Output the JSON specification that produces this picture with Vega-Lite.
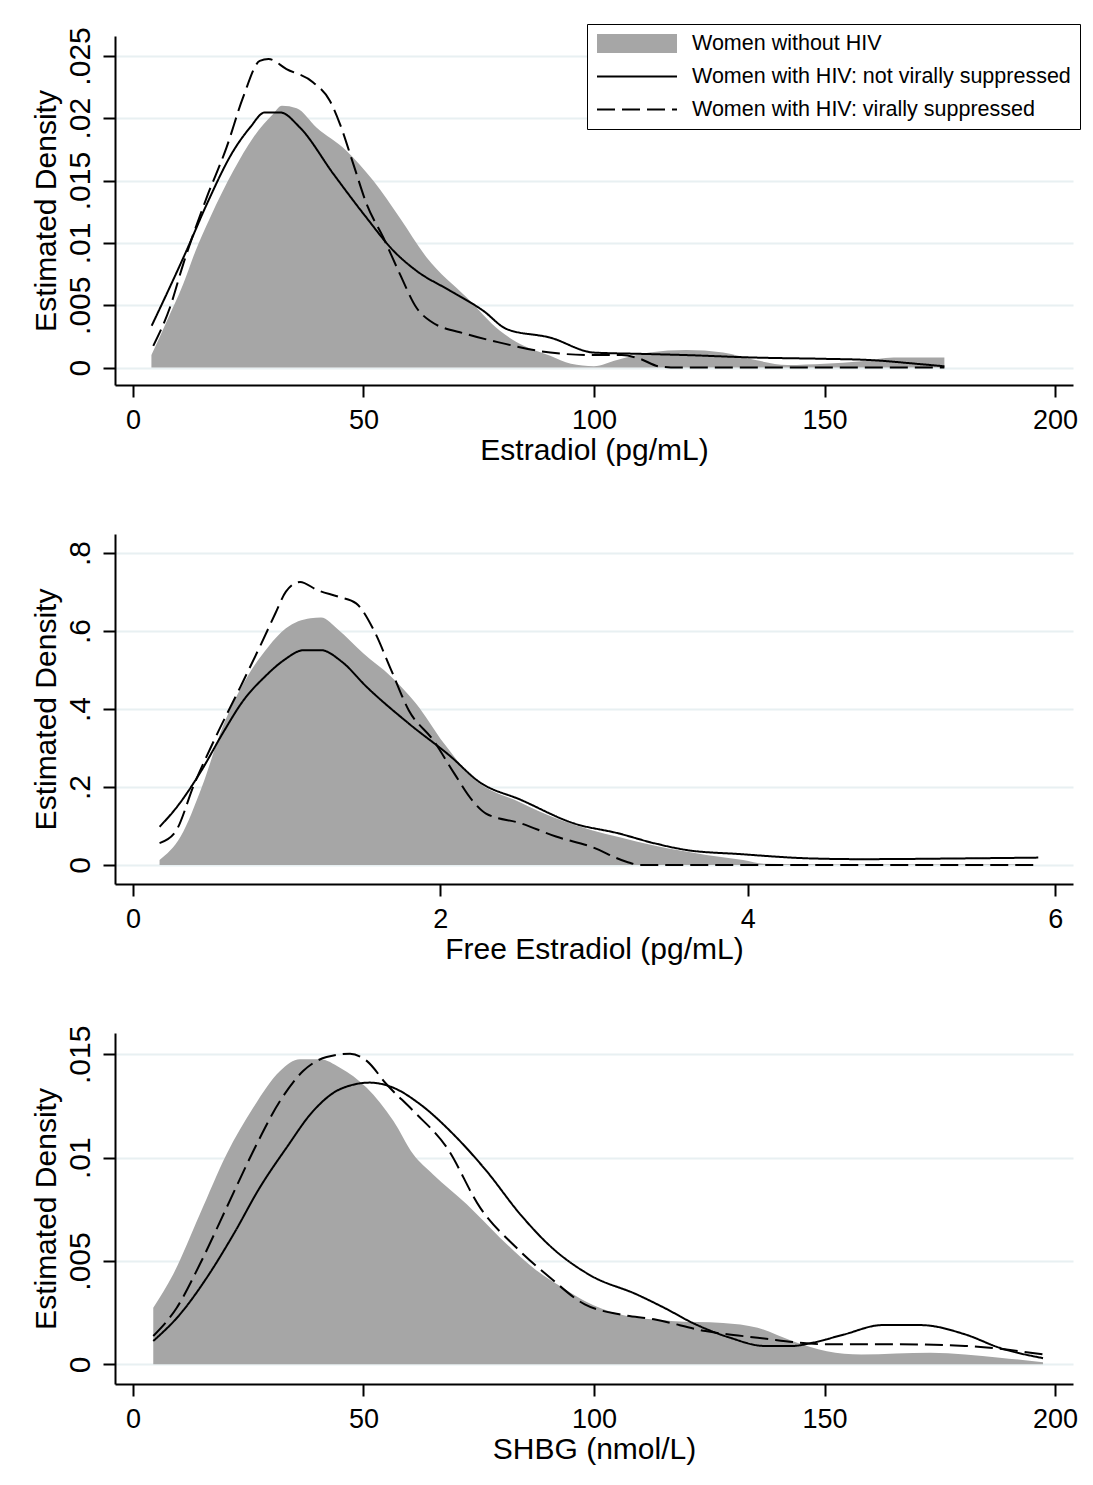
{
  "$schema": "https://vega.github.io/schema/vega-lite/v6.json",
  "padding": {"left": 31, "top": 23, "right": 5, "bottom": 5},
  "background": "white",
  "bounds": "flush",
  "spacing": 149,
  "config": {
    "font": "Liberation Sans",
    "view": {"stroke": null},
    "axis": {
      "domainColor": "black", "domainWidth": 2, "tickColor": "black", "tickWidth": 2, "tickSize": 12,
      "labelColor": "black", "titleColor": "black", "titleFontWeight": "normal",
      "gridColor": "#e8f0f2", "gridWidth": 2, "labelFont": "Liberation Sans", "titleFont": "Liberation Sans",
      "labelOverlap": false, "labelFlush": false
    },
    "axisX": {"grid": false, "labelFontSize": 27, "labelPadding": 10, "titleFontSize": 30, "titleY": 50, "titleBaseline": "top", "format": "d"},
    "axisY": {"grid": true, "labelFontSize": 30, "labelAngle": 270, "labelAlign": "center", "labelBaseline": "bottom", "labelPadding": 8, "titleFontSize": 30, "titleX": -54, "titleAngle": 270, "titleBaseline": "bottom",
      "labelExpr": "datum.value == 0 ? '0' : substring(format(datum.value, '.3~f'), 1)"}
  },
  "resolve": {
    "scale": {"strokeDash": "independent", "stroke": "independent", "fill": "independent"},
    "legend": {"strokeDash": "independent", "stroke": "independent", "fill": "independent"}
  },
  "vconcat": [
    {
      "width": 958, "height": 349,
      "data": {"values": [
        {"group": "Women without HIV", "x": 4, "y": 0.001},
        {"group": "Women without HIV", "x": 7.3, "y": 0.0037},
        {"group": "Women without HIV", "x": 10.9, "y": 0.0067},
        {"group": "Women without HIV", "x": 13.5, "y": 0.0093},
        {"group": "Women without HIV", "x": 16.7, "y": 0.012},
        {"group": "Women without HIV", "x": 21.8, "y": 0.0158},
        {"group": "Women without HIV", "x": 26.1, "y": 0.01846},
        {"group": "Women without HIV", "x": 30.4, "y": 0.02034},
        {"group": "Women without HIV", "x": 32.3, "y": 0.021},
        {"group": "Women without HIV", "x": 35.5, "y": 0.0208},
        {"group": "Women without HIV", "x": 39.8, "y": 0.01926},
        {"group": "Women without HIV", "x": 46.3, "y": 0.0174},
        {"group": "Women without HIV", "x": 52.1, "y": 0.015},
        {"group": "Women without HIV", "x": 57.9, "y": 0.012},
        {"group": "Women without HIV", "x": 63.7, "y": 0.00883},
        {"group": "Women without HIV", "x": 72.4, "y": 0.00562},
        {"group": "Women without HIV", "x": 79.6, "y": 0.00295},
        {"group": "Women without HIV", "x": 85, "y": 0.0017},
        {"group": "Women without HIV", "x": 90.5, "y": 0.00094},
        {"group": "Women without HIV", "x": 95, "y": 0.0003},
        {"group": "Women without HIV", "x": 100, "y": 0.0001},
        {"group": "Women without HIV", "x": 105, "y": 0.0006},
        {"group": "Women without HIV", "x": 112, "y": 0.0012},
        {"group": "Women without HIV", "x": 120, "y": 0.0014},
        {"group": "Women without HIV", "x": 128, "y": 0.0012},
        {"group": "Women without HIV", "x": 135, "y": 0.0006},
        {"group": "Women without HIV", "x": 142, "y": 0.0002},
        {"group": "Women without HIV", "x": 150, "y": 0.0003},
        {"group": "Women without HIV", "x": 158, "y": 0.0005},
        {"group": "Women without HIV", "x": 165, "y": 0.0008},
        {"group": "Women without HIV", "x": 176, "y": 0.0008},
        {"group": "Women with HIV: not virally suppressed", "x": 4.05, "y": 0.00335},
        {"group": "Women with HIV: not virally suppressed", "x": 7.3, "y": 0.0059},
        {"group": "Women with HIV: not virally suppressed", "x": 11.6, "y": 0.00937},
        {"group": "Women with HIV: not virally suppressed", "x": 16, "y": 0.0131},
        {"group": "Women with HIV: not virally suppressed", "x": 21.8, "y": 0.0174},
        {"group": "Women with HIV: not virally suppressed", "x": 25.4, "y": 0.01926},
        {"group": "Women with HIV: not virally suppressed", "x": 28.6, "y": 0.02047},
        {"group": "Women with HIV: not virally suppressed", "x": 31.9, "y": 0.02047},
        {"group": "Women with HIV: not virally suppressed", "x": 36.2, "y": 0.01926},
        {"group": "Women with HIV: not virally suppressed", "x": 43.5, "y": 0.01552},
        {"group": "Women with HIV: not virally suppressed", "x": 50.7, "y": 0.012},
        {"group": "Women with HIV: not virally suppressed", "x": 56.5, "y": 0.00937},
        {"group": "Women with HIV: not virally suppressed", "x": 61.5, "y": 0.00776},
        {"group": "Women with HIV: not virally suppressed", "x": 68.8, "y": 0.00616},
        {"group": "Women with HIV: not virally suppressed", "x": 76, "y": 0.00455},
        {"group": "Women with HIV: not virally suppressed", "x": 81.1, "y": 0.00308},
        {"group": "Women with HIV: not virally suppressed", "x": 90.5, "y": 0.0024},
        {"group": "Women with HIV: not virally suppressed", "x": 100, "y": 0.0012},
        {"group": "Women with HIV: not virally suppressed", "x": 110, "y": 0.0011},
        {"group": "Women with HIV: not virally suppressed", "x": 120, "y": 0.001},
        {"group": "Women with HIV: not virally suppressed", "x": 135, "y": 0.0008},
        {"group": "Women with HIV: not virally suppressed", "x": 150, "y": 0.0007},
        {"group": "Women with HIV: not virally suppressed", "x": 160, "y": 0.0006},
        {"group": "Women with HIV: not virally suppressed", "x": 170, "y": 0.0003},
        {"group": "Women with HIV: not virally suppressed", "x": 176, "y": 0.0001},
        {"group": "Women with HIV: virally suppressed", "x": 4.4, "y": 0.00174},
        {"group": "Women with HIV: virally suppressed", "x": 8, "y": 0.0048},
        {"group": "Women with HIV: virally suppressed", "x": 10.9, "y": 0.0083},
        {"group": "Women with HIV: virally suppressed", "x": 16, "y": 0.01365},
        {"group": "Women with HIV: virally suppressed", "x": 20.3, "y": 0.01766},
        {"group": "Women with HIV: virally suppressed", "x": 23.9, "y": 0.0217},
        {"group": "Women with HIV: virally suppressed", "x": 27.5, "y": 0.0246},
        {"group": "Women with HIV: virally suppressed", "x": 29.4, "y": 0.02475},
        {"group": "Women with HIV: virally suppressed", "x": 33.3, "y": 0.02395},
        {"group": "Women with HIV: virally suppressed", "x": 39.1, "y": 0.02287},
        {"group": "Women with HIV: virally suppressed", "x": 42.7, "y": 0.0214},
        {"group": "Women with HIV: virally suppressed", "x": 44.9, "y": 0.01953},
        {"group": "Women with HIV: virally suppressed", "x": 47.8, "y": 0.01632},
        {"group": "Women with HIV: virally suppressed", "x": 50.7, "y": 0.0131},
        {"group": "Women with HIV: virally suppressed", "x": 54.3, "y": 0.01043},
        {"group": "Women with HIV: virally suppressed", "x": 57.9, "y": 0.0075},
        {"group": "Women with HIV: virally suppressed", "x": 61.5, "y": 0.0048},
        {"group": "Women with HIV: virally suppressed", "x": 64.4, "y": 0.00375},
        {"group": "Women with HIV: virally suppressed", "x": 72.4, "y": 0.00268},
        {"group": "Women with HIV: virally suppressed", "x": 79.6, "y": 0.002},
        {"group": "Women with HIV: virally suppressed", "x": 90.5, "y": 0.0012},
        {"group": "Women with HIV: virally suppressed", "x": 100, "y": 0.001},
        {"group": "Women with HIV: virally suppressed", "x": 106, "y": 0.001},
        {"group": "Women with HIV: virally suppressed", "x": 110, "y": 0.0007},
        {"group": "Women with HIV: virally suppressed", "x": 114, "y": 0.0001},
        {"group": "Women with HIV: virally suppressed", "x": 118, "y": 0},
        {"group": "Women with HIV: virally suppressed", "x": 176, "y": 0}
      ]},
      "layer": [
        {
          "transform": [{"filter": "datum.group == 'Women without HIV'"}],
          "mark": {"type": "area", "interpolate": "monotone"},
          "encoding": {
            "x": {"field": "x", "type": "quantitative", "scale": {"domain": [-3.9, 203.9], "nice": false, "zero": false},
                  "axis": {"values": [0, 50, 100, 150, 200], "title": "Estradiol (pg/mL)"}},
            "y": {"field": "y", "type": "quantitative", "scale": {"domain": [-0.0014, 0.0266], "nice": false, "zero": false},
                  "axis": {"values": [0, 0.005, 0.01, 0.015, 0.02, 0.025], "title": "Estimated Density"}},
            "y2": {"datum": 0},
            "fill": {
              "field": "group", "type": "nominal",
              "scale": {"domain": ["Women without HIV"], "range": ["#a6a6a6"]},
              "legend": {
                "title": null, "orient": "none", "legendX": 472, "legendY": -12, "direction": "vertical",
                "symbolSize": 6400, "symbolStrokeWidth": 1.8, "symbolStrokeColor": "transparent",
                "symbolType": "M-1,-0.24H1V0.24H-1Z", "clipHeight": 21, "padding": 9,
                "labelExpr": "''", "labelOffset": 14, "labelFontSize": 21.5,
                "fillColor": null, "strokeColor": null, "zindex": 3
              }
            }
          }
        },
        {
          "transform": [{"filter": "datum.group != 'Women without HIV'"}],
          "mark": {"type": "line", "strokeWidth": 2, "interpolate": "monotone"},
          "encoding": {
            "x": {"field": "x", "type": "quantitative"},
            "y": {"field": "y", "type": "quantitative"},
            "stroke": {
              "field": "group", "type": "nominal",
              "scale": {"domain": ["Women without HIV", "Women with HIV: not virally suppressed", "Women with HIV: virally suppressed"],
                        "range": ["transparent", "black", "black"]},
              "legend": {
                "title": null, "orient": "none", "legendX": 472, "legendY": -12, "direction": "vertical",
                "labelFontSize": 21.5, "labelFont": "Liberation Sans", "labelColor": "black", "labelLimit": 600,
                "symbolSize": 6400, "symbolStrokeWidth": 1.8, "symbolType": "stroke", "clipHeight": 21,
                "labelOffset": 14, "rowPadding": 11, "padding": 9, "labelExpr": "datum.label + '\u00a0'",
                "strokeColor": "black", "fillColor": "white", "zindex": 1
              }
            },
            "strokeDash": {
              "field": "group", "type": "nominal",
              "scale": {"domain": ["Women without HIV", "Women with HIV: not virally suppressed", "Women with HIV: virally suppressed"],
                        "range": [[1, 0], [1, 0], [18, 7]]},
              "legend": {
                "title": null, "orient": "none", "legendX": 472, "legendY": -12, "direction": "vertical",
                "labelFontSize": 21.5, "labelFont": "Liberation Sans", "labelColor": "black", "labelLimit": 600,
                "symbolSize": 6400, "symbolStrokeWidth": 1.8, "symbolType": "stroke", "clipHeight": 21,
                "labelOffset": 14, "rowPadding": 11, "padding": 9, "labelExpr": "datum.label + '\u00a0'",
                "strokeColor": "black", "fillColor": "white", "zindex": 1
              }
            }
          }
        }
      ]
    },
    {
      "width": 958, "height": 350,
      "data": {"values": [
        {"group": "Women without HIV", "x": 0.173, "y": 0.013},
        {"group": "Women without HIV", "x": 0.31, "y": 0.073},
        {"group": "Women without HIV", "x": 0.448, "y": 0.2},
        {"group": "Women without HIV", "x": 0.584, "y": 0.355},
        {"group": "Women without HIV", "x": 0.744, "y": 0.483},
        {"group": "Women without HIV", "x": 0.881, "y": 0.56},
        {"group": "Women without HIV", "x": 0.995, "y": 0.607},
        {"group": "Women without HIV", "x": 1.155, "y": 0.633},
        {"group": "Women without HIV", "x": 1.223, "y": 0.635},
        {"group": "Women without HIV", "x": 1.338, "y": 0.603},
        {"group": "Women without HIV", "x": 1.498, "y": 0.543},
        {"group": "Women without HIV", "x": 1.68, "y": 0.483},
        {"group": "Women without HIV", "x": 1.84, "y": 0.415},
        {"group": "Women without HIV", "x": 2.023, "y": 0.312},
        {"group": "Women without HIV", "x": 2.205, "y": 0.226},
        {"group": "Women without HIV", "x": 2.524, "y": 0.16},
        {"group": "Women without HIV", "x": 2.752, "y": 0.12},
        {"group": "Women without HIV", "x": 2.98, "y": 0.09},
        {"group": "Women without HIV", "x": 3.16, "y": 0.072},
        {"group": "Women without HIV", "x": 3.39, "y": 0.05},
        {"group": "Women without HIV", "x": 3.73, "y": 0.026},
        {"group": "Women without HIV", "x": 3.97, "y": 0.013},
        {"group": "Women without HIV", "x": 4.11, "y": 0.003},
        {"group": "Women without HIV", "x": 4.5, "y": 0.001},
        {"group": "Women without HIV", "x": 5.85, "y": 0.001},
        {"group": "Women with HIV: not virally suppressed", "x": 0.173, "y": 0.098},
        {"group": "Women with HIV: not virally suppressed", "x": 0.288, "y": 0.15},
        {"group": "Women with HIV: not virally suppressed", "x": 0.448, "y": 0.244},
        {"group": "Women with HIV: not virally suppressed", "x": 0.584, "y": 0.338},
        {"group": "Women with HIV: not virally suppressed", "x": 0.72, "y": 0.423},
        {"group": "Women with HIV: not virally suppressed", "x": 0.858, "y": 0.483},
        {"group": "Women with HIV: not virally suppressed", "x": 0.984, "y": 0.526},
        {"group": "Women with HIV: not virally suppressed", "x": 1.11, "y": 0.551},
        {"group": "Women with HIV: not virally suppressed", "x": 1.223, "y": 0.551},
        {"group": "Women with HIV: not virally suppressed", "x": 1.36, "y": 0.521},
        {"group": "Women with HIV: not virally suppressed", "x": 1.52, "y": 0.457},
        {"group": "Women with HIV: not virally suppressed", "x": 1.794, "y": 0.363},
        {"group": "Women with HIV: not virally suppressed", "x": 2.068, "y": 0.278},
        {"group": "Women with HIV: not virally suppressed", "x": 2.25, "y": 0.214},
        {"group": "Women with HIV: not virally suppressed", "x": 2.524, "y": 0.167},
        {"group": "Women with HIV: not virally suppressed", "x": 2.867, "y": 0.107},
        {"group": "Women with HIV: not virally suppressed", "x": 3.16, "y": 0.081},
        {"group": "Women with HIV: not virally suppressed", "x": 3.39, "y": 0.056},
        {"group": "Women with HIV: not virally suppressed", "x": 3.61, "y": 0.038},
        {"group": "Women with HIV: not virally suppressed", "x": 3.95, "y": 0.028},
        {"group": "Women with HIV: not virally suppressed", "x": 4.4, "y": 0.017},
        {"group": "Women with HIV: not virally suppressed", "x": 4.74, "y": 0.015},
        {"group": "Women with HIV: not virally suppressed", "x": 5.41, "y": 0.017},
        {"group": "Women with HIV: not virally suppressed", "x": 5.89, "y": 0.019},
        {"group": "Women with HIV: virally suppressed", "x": 0.173, "y": 0.056},
        {"group": "Women with HIV: virally suppressed", "x": 0.276, "y": 0.085},
        {"group": "Women with HIV: virally suppressed", "x": 0.4, "y": 0.209},
        {"group": "Women with HIV: virally suppressed", "x": 0.539, "y": 0.329},
        {"group": "Women with HIV: virally suppressed", "x": 0.699, "y": 0.457},
        {"group": "Women with HIV: virally suppressed", "x": 0.835, "y": 0.568},
        {"group": "Women with HIV: virally suppressed", "x": 0.926, "y": 0.645},
        {"group": "Women with HIV: virally suppressed", "x": 0.995, "y": 0.701},
        {"group": "Women with HIV: virally suppressed", "x": 1.087, "y": 0.726},
        {"group": "Women with HIV: virally suppressed", "x": 1.2, "y": 0.705},
        {"group": "Women with HIV: virally suppressed", "x": 1.338, "y": 0.688},
        {"group": "Women with HIV: virally suppressed", "x": 1.452, "y": 0.671},
        {"group": "Women with HIV: virally suppressed", "x": 1.566, "y": 0.603},
        {"group": "Women with HIV: virally suppressed", "x": 1.68, "y": 0.5},
        {"group": "Women with HIV: virally suppressed", "x": 1.794, "y": 0.397},
        {"group": "Women with HIV: virally suppressed", "x": 1.954, "y": 0.32},
        {"group": "Women with HIV: virally suppressed", "x": 2.09, "y": 0.235},
        {"group": "Women with HIV: virally suppressed", "x": 2.205, "y": 0.167},
        {"group": "Women with HIV: virally suppressed", "x": 2.297, "y": 0.132},
        {"group": "Women with HIV: virally suppressed", "x": 2.524, "y": 0.107},
        {"group": "Women with HIV: virally suppressed", "x": 2.752, "y": 0.073},
        {"group": "Women with HIV: virally suppressed", "x": 2.98, "y": 0.047},
        {"group": "Women with HIV: virally suppressed", "x": 3.21, "y": 0.0085},
        {"group": "Women with HIV: virally suppressed", "x": 3.3, "y": 0},
        {"group": "Women with HIV: virally suppressed", "x": 5.89, "y": 0}
      ]},
      "layer": [
        {
          "transform": [{"filter": "datum.group == 'Women without HIV'"}],
          "mark": {"type": "area", "color": "#a6a6a6", "interpolate": "monotone"},
          "encoding": {
            "x": {"field": "x", "type": "quantitative", "scale": {"domain": [-0.117, 6.116], "nice": false, "zero": false},
                  "axis": {"values": [0, 2, 4, 6], "title": "Free Estradiol (pg/mL)"}},
            "y": {"field": "y", "type": "quantitative", "scale": {"domain": [-0.0487, 0.849], "nice": false, "zero": false},
                  "axis": {"values": [0, 0.2, 0.4, 0.6, 0.8], "title": "Estimated Density"}},
            "y2": {"datum": 0}
          }
        },
        {
          "transform": [{"filter": "datum.group != 'Women without HIV'"}],
          "mark": {"type": "line", "color": "black", "strokeWidth": 2, "interpolate": "monotone"},
          "encoding": {
            "x": {"field": "x", "type": "quantitative"},
            "y": {"field": "y", "type": "quantitative"},
            "strokeDash": {
              "field": "group", "type": "nominal",
              "scale": {"domain": ["Women without HIV", "Women with HIV: not virally suppressed", "Women with HIV: virally suppressed"],
                        "range": [[1, 0], [1, 0], [18, 7]]},
              "legend": null
            }
          }
        }
      ]
    },
    {
      "width": 958, "height": 351,
      "data": {"values": [
        {"group": "Women without HIV", "x": 4.4, "y": 0.00274},
        {"group": "Women without HIV", "x": 8.7, "y": 0.00435},
        {"group": "Women without HIV", "x": 14.5, "y": 0.00726},
        {"group": "Women without HIV", "x": 20.3, "y": 0.01016},
        {"group": "Women without HIV", "x": 26.1, "y": 0.01242},
        {"group": "Women without HIV", "x": 31.9, "y": 0.01419},
        {"group": "Women without HIV", "x": 36.2, "y": 0.01476},
        {"group": "Women without HIV", "x": 40.6, "y": 0.01476},
        {"group": "Women without HIV", "x": 44.9, "y": 0.01435},
        {"group": "Women without HIV", "x": 50.7, "y": 0.01338},
        {"group": "Women without HIV", "x": 56.5, "y": 0.01177},
        {"group": "Women without HIV", "x": 60.8, "y": 0.01016},
        {"group": "Women without HIV", "x": 65.1, "y": 0.00919},
        {"group": "Women without HIV", "x": 72.4, "y": 0.00774},
        {"group": "Women without HIV", "x": 79.6, "y": 0.00613},
        {"group": "Women without HIV", "x": 86.8, "y": 0.00467},
        {"group": "Women without HIV", "x": 94, "y": 0.0036},
        {"group": "Women without HIV", "x": 98, "y": 0.00306},
        {"group": "Women without HIV", "x": 105.5, "y": 0.00242},
        {"group": "Women without HIV", "x": 116.7, "y": 0.0021},
        {"group": "Women without HIV", "x": 128, "y": 0.002},
        {"group": "Women without HIV", "x": 135.5, "y": 0.00177},
        {"group": "Women without HIV", "x": 143, "y": 0.00113},
        {"group": "Women without HIV", "x": 150.5, "y": 0.00064},
        {"group": "Women without HIV", "x": 158, "y": 0.00048},
        {"group": "Women without HIV", "x": 173, "y": 0.00056},
        {"group": "Women without HIV", "x": 188, "y": 0.00032},
        {"group": "Women without HIV", "x": 197.4, "y": 0.0001},
        {"group": "Women with HIV: not virally suppressed", "x": 4.4, "y": 0.00113},
        {"group": "Women with HIV: not virally suppressed", "x": 10.2, "y": 0.00242},
        {"group": "Women with HIV: not virally suppressed", "x": 16, "y": 0.00419},
        {"group": "Women with HIV: not virally suppressed", "x": 21.8, "y": 0.00629},
        {"group": "Women with HIV: not virally suppressed", "x": 27.5, "y": 0.00855},
        {"group": "Women with HIV: not virally suppressed", "x": 33.3, "y": 0.01048},
        {"group": "Women with HIV: not virally suppressed", "x": 39.1, "y": 0.01226},
        {"group": "Women with HIV: not virally suppressed", "x": 44.9, "y": 0.01331},
        {"group": "Women with HIV: not virally suppressed", "x": 51.4, "y": 0.01363},
        {"group": "Women with HIV: not virally suppressed", "x": 56.5, "y": 0.01338},
        {"group": "Women with HIV: not virally suppressed", "x": 62.3, "y": 0.01258},
        {"group": "Women with HIV: not virally suppressed", "x": 69.5, "y": 0.01113},
        {"group": "Women with HIV: not virally suppressed", "x": 76.7, "y": 0.00935},
        {"group": "Women with HIV: not virally suppressed", "x": 84, "y": 0.00726},
        {"group": "Women with HIV: not virally suppressed", "x": 90.5, "y": 0.00572},
        {"group": "Women with HIV: not virally suppressed", "x": 99.5, "y": 0.00427},
        {"group": "Women with HIV: not virally suppressed", "x": 109.2, "y": 0.00339},
        {"group": "Women with HIV: not virally suppressed", "x": 115.2, "y": 0.00274},
        {"group": "Women with HIV: not virally suppressed", "x": 122, "y": 0.00194},
        {"group": "Women with HIV: not virally suppressed", "x": 129.5, "y": 0.00129},
        {"group": "Women with HIV: not virally suppressed", "x": 137, "y": 0.00089},
        {"group": "Women with HIV: not virally suppressed", "x": 143, "y": 0.00089},
        {"group": "Women with HIV: not virally suppressed", "x": 147.5, "y": 0.00105},
        {"group": "Women with HIV: not virally suppressed", "x": 154.3, "y": 0.00145},
        {"group": "Women with HIV: not virally suppressed", "x": 162.5, "y": 0.0019},
        {"group": "Women with HIV: not virally suppressed", "x": 170.8, "y": 0.0019},
        {"group": "Women with HIV: not virally suppressed", "x": 180.5, "y": 0.00145},
        {"group": "Women with HIV: not virally suppressed", "x": 188, "y": 0.0008},
        {"group": "Women with HIV: not virally suppressed", "x": 197.4, "y": 0.0003},
        {"group": "Women with HIV: virally suppressed", "x": 4.4, "y": 0.00137},
        {"group": "Women with HIV: virally suppressed", "x": 9.5, "y": 0.00274},
        {"group": "Women with HIV: virally suppressed", "x": 14.5, "y": 0.00484},
        {"group": "Women with HIV: virally suppressed", "x": 20.3, "y": 0.00758},
        {"group": "Women with HIV: virally suppressed", "x": 26.1, "y": 0.01032},
        {"group": "Women with HIV: virally suppressed", "x": 31.9, "y": 0.01274},
        {"group": "Women with HIV: virally suppressed", "x": 36.9, "y": 0.01419},
        {"group": "Women with HIV: virally suppressed", "x": 42, "y": 0.01487},
        {"group": "Women with HIV: virally suppressed", "x": 47.1, "y": 0.01503},
        {"group": "Women with HIV: virally suppressed", "x": 50.7, "y": 0.01468},
        {"group": "Women with HIV: virally suppressed", "x": 55, "y": 0.01355},
        {"group": "Women with HIV: virally suppressed", "x": 60.8, "y": 0.01226},
        {"group": "Women with HIV: virally suppressed", "x": 68.1, "y": 0.01048},
        {"group": "Women with HIV: virally suppressed", "x": 75.3, "y": 0.00758},
        {"group": "Women with HIV: virally suppressed", "x": 83.2, "y": 0.00564},
        {"group": "Women with HIV: virally suppressed", "x": 90.5, "y": 0.00419},
        {"group": "Women with HIV: virally suppressed", "x": 98, "y": 0.0029},
        {"group": "Women with HIV: virally suppressed", "x": 105.5, "y": 0.00242},
        {"group": "Women with HIV: virally suppressed", "x": 113, "y": 0.00218},
        {"group": "Women with HIV: virally suppressed", "x": 124.2, "y": 0.00161},
        {"group": "Women with HIV: virally suppressed", "x": 135.5, "y": 0.00129},
        {"group": "Women with HIV: virally suppressed", "x": 150.5, "y": 0.00097},
        {"group": "Women with HIV: virally suppressed", "x": 165.5, "y": 0.00097},
        {"group": "Women with HIV: virally suppressed", "x": 180.5, "y": 0.00089},
        {"group": "Women with HIV: virally suppressed", "x": 197.4, "y": 0.00048}
      ]},
      "layer": [
        {
          "transform": [{"filter": "datum.group == 'Women without HIV'"}],
          "mark": {"type": "area", "color": "#a6a6a6", "interpolate": "monotone"},
          "encoding": {
            "x": {"field": "x", "type": "quantitative", "scale": {"domain": [-3.9, 203.9], "nice": false, "zero": false},
                  "axis": {"values": [0, 50, 100, 150, 200], "title": "SHBG (nmol/L)"}},
            "y": {"field": "y", "type": "quantitative", "scale": {"domain": [-0.00095, 0.01603], "nice": false, "zero": false},
                  "axis": {"values": [0, 0.005, 0.01, 0.015], "title": "Estimated Density"}},
            "y2": {"datum": 0}
          }
        },
        {
          "transform": [{"filter": "datum.group != 'Women without HIV'"}],
          "mark": {"type": "line", "color": "black", "strokeWidth": 2, "interpolate": "monotone"},
          "encoding": {
            "x": {"field": "x", "type": "quantitative"},
            "y": {"field": "y", "type": "quantitative"},
            "strokeDash": {
              "field": "group", "type": "nominal",
              "scale": {"domain": ["Women without HIV", "Women with HIV: not virally suppressed", "Women with HIV: virally suppressed"],
                        "range": [[1, 0], [1, 0], [18, 7]]},
              "legend": null
            }
          }
        }
      ]
    }
  ]
}
